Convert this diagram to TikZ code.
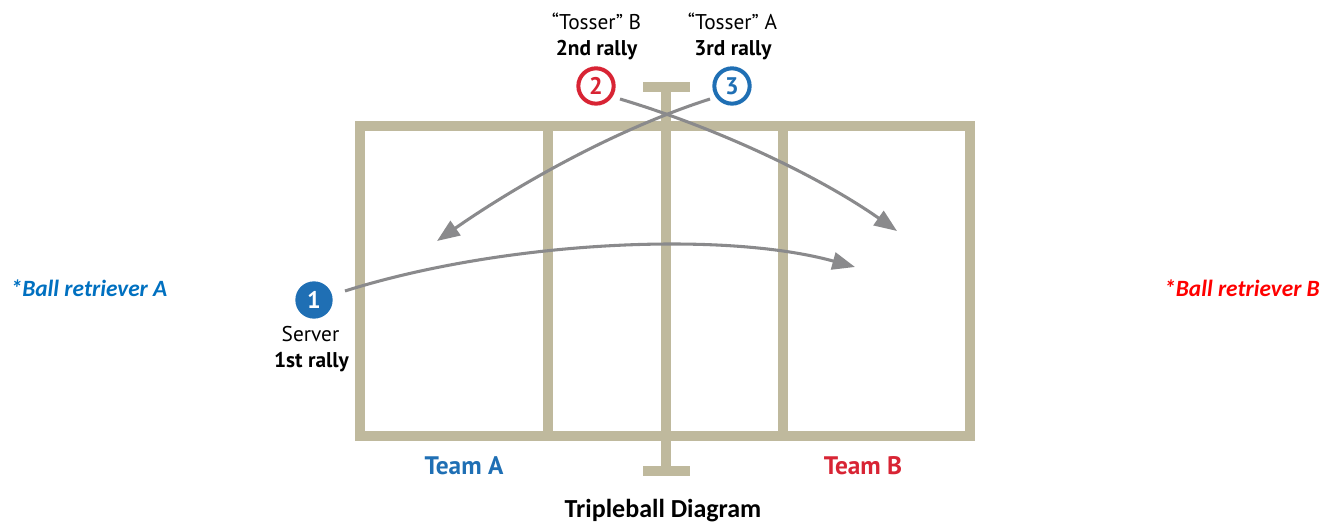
\documentclass[tikz,border=0pt]{standalone}
\usepackage{fontspec}
\setmainfont{PT Sans}
\newfontfamily\calfont{Carlito}
\usetikzlibrary{arrows.meta}
\definecolor{court}{RGB}{191,185,157}
\definecolor{teamblue}{RGB}{31,111,180}
\definecolor{teamred}{RGB}{216,36,52}
\definecolor{retblue}{RGB}{0,112,192}
\definecolor{retred}{RGB}{255,0,0}
\definecolor{arrowgray}{RGB}{138,138,140}
\tikzset{
  courtline/.style={draw=court, line width=7.9pt, line cap=butt},
  label/.style={anchor=base, inner sep=0pt, font=\fontsize{16}{19}\selectfont},
  boldlabel/.style={label, font=\fontsize{16}{19}\selectfont\bfseries},
  team/.style={anchor=base, inner sep=0pt, font=\fontsize{19}{23}\selectfont\bfseries},
  retr/.style={anchor=base, inner sep=0pt, font=\calfont\fontsize{17.5}{21}\selectfont\bfseries\itshape},
  ring/.style={circle, draw=#1, line width=3pt, fill=white, minimum size=26.5pt, inner sep=0pt, text=#1, font=\fontsize{18}{21}\selectfont\bfseries},
  disc/.style={circle, fill=#1, minimum size=28pt, inner sep=0pt, text=white, font=\fontsize{18}{21}\selectfont\bfseries},
  rallyarrow/.style={draw=arrowgray, line width=2.3pt, -{Triangle[length=17pt, width=13pt]}},
}
\begin{document}
\begin{tikzpicture}[x=0.75pt, y=-0.75pt]
\useasboundingbox (0,0) rectangle (1333,523);
% court
\draw[courtline] (360,126) rectangle (970,436);
\draw[courtline] (548,126) -- (548,436);
\draw[courtline] (783,126) -- (783,436);
% net
\draw[courtline] (666,87) -- (666,471);
\draw[courtline] (643,87) -- (690,87);
\draw[courtline] (643,471) -- (690,471);
% labels
\node[label] (tb) at (596.5,30) {“Tosser” B};
\node[boldlabel] (r2) at (596.5,56) {2nd rally};
\node[label] (ta) at (732.5,30) {“Tosser” A};
\node[boldlabel] (r3) at (733,56) {3rd rally};
\node[label] (srv) at (310.5,342) {Server};
\node[boldlabel] (r1) at (311.5,368) {1st rally};
\node[team, text=teamblue] (teamA) at (464,474) {Team A};
\node[team, text=teamred] (teamB) at (863,474) {Team B};
\node[anchor=base, inner sep=0pt, font=\calfont\fontsize{19.5}{23}\selectfont\bfseries] (title) at (663,517) {Tripleball Diagram};
\node[retr, text=retblue] (retA) at (89,297) {*Ball retriever A};
\node[retr, text=retred] (retB) at (1242,297) {*Ball retriever B};
% circles
\node[ring=teamred] (c2) at (596,86) {2};
\node[ring=teamblue] (c3) at (732,86) {3};
\node[disc=teamblue] (c1) at (314,300) {1};
% arrow end points
\coordinate (s1) at (345,291);
\coordinate (e1) at (855,267);
\coordinate (s2) at (620,99);
\coordinate (e2) at (897,231);
\coordinate (s3) at (710,99);
\coordinate (e3) at (437,241);
% arrows
\draw[rallyarrow] (s1) .. controls (500,242) and (720,230) .. (e1);
\draw[rallyarrow] (s2) .. controls (720,129) and (820,177) .. (e2);
\draw[rallyarrow] (s3) .. controls (610,131) and (510,190) .. (e3);
\end{tikzpicture}
\end{document}
